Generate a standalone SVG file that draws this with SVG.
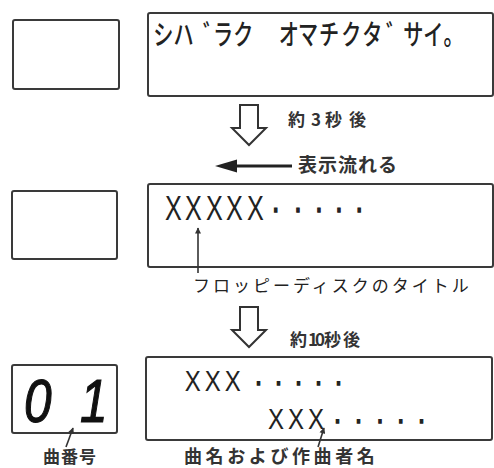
<svg xmlns="http://www.w3.org/2000/svg" width="494" height="468" viewBox="0 0 494 468">
<style>
.box{fill:#fff;stroke:#3a3a3a;stroke-width:2}
.jp{font-family:"Noto Sans CJK JP","Noto Sans",sans-serif;fill:#222}
.lbl{font-family:"Noto Sans CJK JP","Noto Sans",sans-serif;fill:#333;font-weight:bold}
.lat{font-family:"Liberation Sans",Arial,sans-serif;fill:#222}
.dots{stroke:#222;stroke-width:1.6}
.seg{font-family:"Liberation Sans",Arial,sans-serif;fill:#111;stroke:#111;stroke-width:1.2;font-style:italic}
.hollow{fill:#fff;stroke:#333;stroke-width:2;stroke-linejoin:miter}
.ptr{stroke:#333;stroke-width:1.6;fill:none}
</style>
<defs>
<marker id="ahs" viewBox="0 0 10 10" refX="9" refY="5" markerWidth="12" markerHeight="6" orient="auto" markerUnits="userSpaceOnUse">
<path d="M0,0 L10,5 L0,10 z" fill="#333"/>
</marker>
</defs>
<rect width="494" height="468" fill="#fff"/>

<g id="step1-number-display">
<rect class="box" x="13" y="20" width="106" height="69" rx="2"/>
</g>
<g id="step1-text-display">
<rect class="box" x="148" y="13" width="345" height="83" rx="2"/>
<text class="jp" font-size="28" font-weight="500" transform="translate(0,45) scale(0.72,1)" x="213 241 282 296 324 355 387 414 443 474 503 536 560 588 616" y="0 0 0 0 0 0 0 0 0 0 0 0 0 0 0">シハ゛ラク　オマチクタ゛サイ。</text>
</g>

<g id="step2-number-display">
<rect class="box" x="12" y="191" width="105" height="68" rx="2"/>
</g>
<g id="step2-text-display">
<rect class="box" x="148" y="184" width="345" height="83" rx="2"/>
<text class="lat" font-size="35" transform="translate(0,220) scale(0.72,1)" x="229 257 286 314 343" y="0 0 0 0 0">XXXXX<tspan class="dots" x="377 408 437 465 493">·····</tspan></text>
</g>
<g id="label-title">
<text class="jp" font-size="17" x="193" y="292" letter-spacing="3">フロッピーディスクのタイトル</text>
</g>

<g id="step3-number-display">
<rect class="box" x="12" y="365" width="105" height="68" rx="2"/>
<text class="seg" font-size="62" transform="translate(0,422) scale(0.8,1)" x="30 100" y="0 0">01</text>
</g>
<g id="step3-text-display">
<rect class="box" x="146" y="357" width="346" height="83" rx="2"/>
<text class="lat" font-size="30" transform="translate(0,391) scale(0.8,1)" x="231 256 281" y="0 0 0">XXX<tspan class="dots" x="318 343 368 393 418">·····</tspan></text>
<text class="lat" font-size="30" transform="translate(0,429) scale(0.8,1)" x="335 360 385" y="0 0 0">XXX<tspan class="dots" x="417 443 470 496 522">·····</tspan></text>
</g>
<g id="label-track-number">
<text class="lbl" font-size="17" x="43" y="463" letter-spacing="1">曲番号</text>
</g>
<g id="label-song-composer">
<text class="lbl" font-size="18" x="184" y="463" letter-spacing="3.6">曲名および作曲者名</text>
</g>

<g id="time-labels">
<text class="lbl" font-size="17" x="288 311 325 349" y="126 126 126 126">約3秒後</text>
<text class="lbl" font-size="19" x="298" y="172" letter-spacing="1">表示流れる</text>
<text class="lbl" font-size="17" x="290 308 315 324 343" y="346 346 346 346 346">約10秒後</text>
</g>

<g id="connectors">
<polygon class="hollow" points="240,105 258,105 258,128 266,128 249,145 232,128 240,128"/>
<polygon class="hollow" points="240,307 258,307 258,330 266,330 249,347 232,330 240,330"/>
<line x1="292" y1="166" x2="234" y2="166" stroke="#222" stroke-width="3"/>
<polygon points="215,166 237,159.5 237,172.5" fill="#222"/>
<line class="ptr" x1="198" y1="273" x2="198" y2="228" marker-end="url(#ahs)"/>
<line class="ptr" x1="66" y1="447" x2="73" y2="428" marker-end="url(#ahs)"/>
<line class="ptr" x1="318" y1="447" x2="324" y2="428" marker-end="url(#ahs)"/>
</g>
</svg>
